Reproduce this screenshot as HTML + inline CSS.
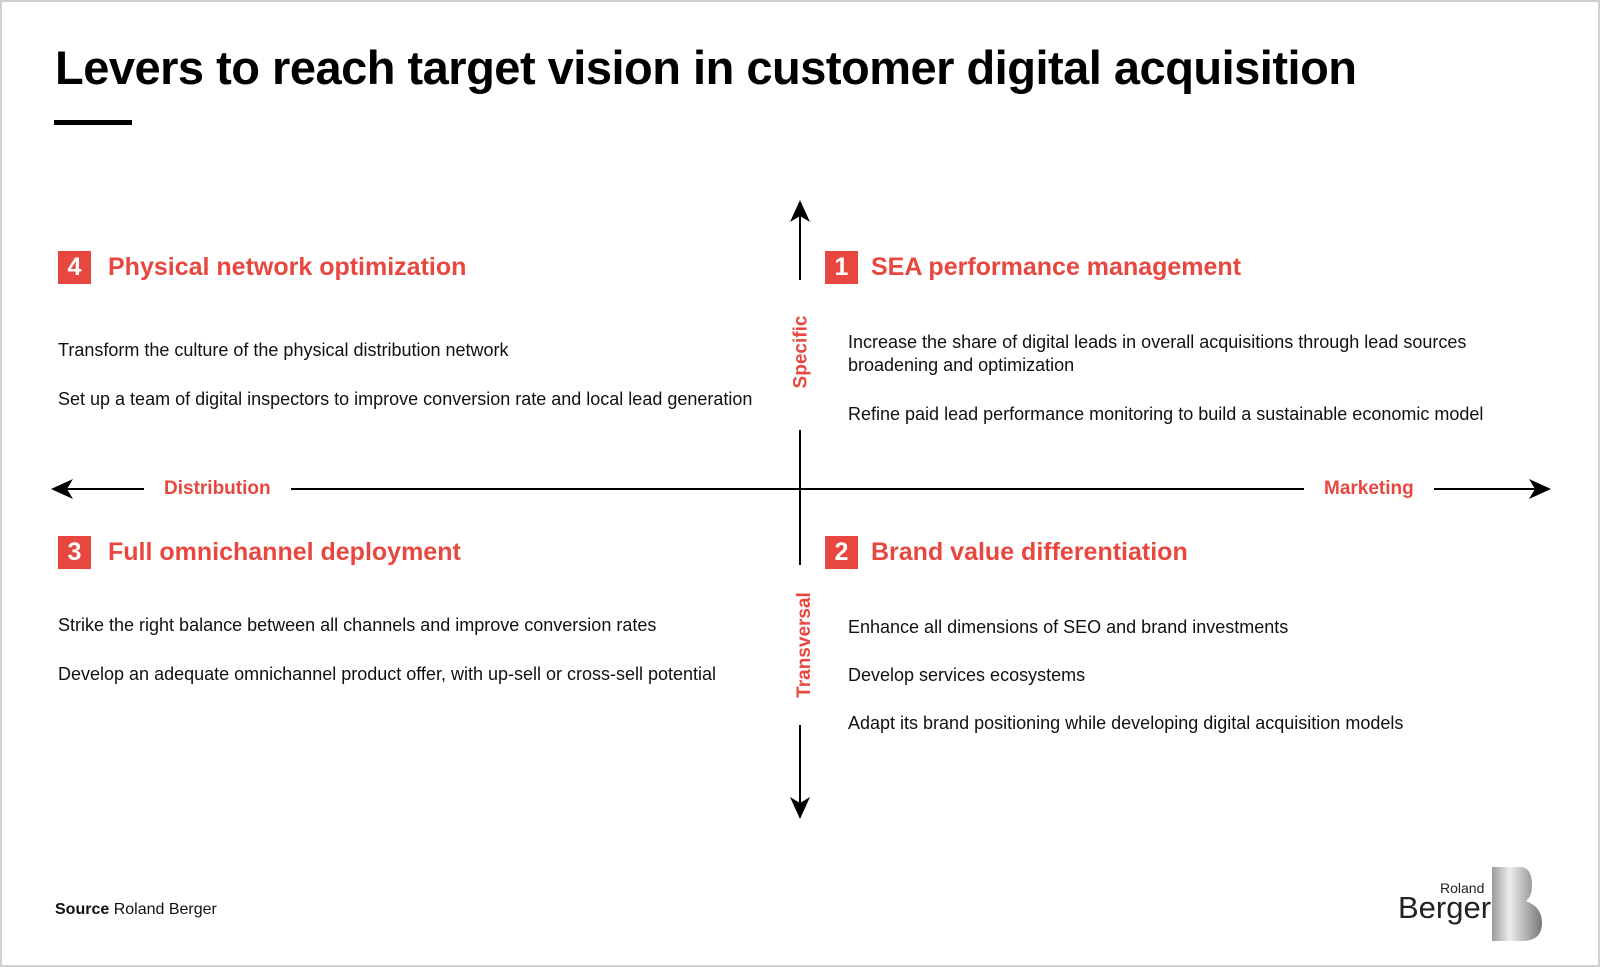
<!DOCTYPE html>
<html><head><style>
body{margin:0;width:1600px;height:967px;background:#fff;font-family:"Liberation Sans",sans-serif;position:relative;overflow:hidden}
.frame{position:absolute;left:0;top:0;width:1596px;height:963px;border:2px solid #cfcfcf}
.abs{position:absolute;white-space:nowrap}
h1{position:absolute;left:55px;top:40px;margin:0;font-size:47px;font-weight:bold;color:#000;letter-spacing:-0.5px}
.bar{position:absolute;left:54px;top:120px;width:78px;height:5px;background:#000}
.num{position:absolute;width:33px;height:33px;background:#e8473f;color:#fff;font-weight:bold;font-size:25px;text-align:center;line-height:33px}
.hd{position:absolute;color:#e8473f;font-weight:bold;font-size:25px;line-height:33px;white-space:nowrap}
.t{position:absolute;font-size:18px;color:#111;white-space:nowrap;line-height:23px}
.lab{position:absolute;color:#e8473f;font-weight:bold;font-size:19px;background:#fff;padding:0 20px;line-height:30px}
.vlab{position:absolute;color:#e8473f;font-weight:bold;font-size:19px;transform:rotate(-90deg);white-space:nowrap;background:#fff;padding:0 22px;line-height:24px}
</style></head><body>
<div class="frame"></div>
<h1>Levers to reach target vision in customer digital acquisition</h1>
<div class="bar"></div>
<svg class="abs" style="left:0;top:0" width="1600" height="967">
<line x1="62" y1="489" x2="1540" y2="489" stroke="#000" stroke-width="2"/>
<polygon points="51,489 73,479 67,489 73,499" fill="#000"/>
<polygon points="1551,489 1529,479 1535,489 1529,499" fill="#000"/>
<line x1="800" y1="212" x2="800" y2="808" stroke="#000" stroke-width="2"/>
<polygon points="800,200 790,222 800,216 810,222" fill="#000"/>
<polygon points="800,819 790,797 800,803 810,797" fill="#000"/>
<rect x="785" y="280" width="30" height="150" fill="#fff"/>
<rect x="785" y="565" width="30" height="160" fill="#fff"/>
</svg>
<div class="lab" style="left:144px;top:474px">Distribution</div>
<div class="lab" style="left:1304px;top:474px">Marketing</div>
<div class="vlab" style="left:743px;top:340px">Specific</div>
<div class="vlab" style="left:730px;top:633px">Transversal</div>

<div class="num" style="left:58px;top:251px">4</div><div class="hd" style="left:108px;top:251px">Physical network optimization</div>
<div class="num" style="left:825px;top:251px">1</div><div class="hd" style="left:871px;top:251px">SEA performance management</div>
<div class="num" style="left:58px;top:536px">3</div><div class="hd" style="left:108px;top:536px">Full omnichannel deployment</div>
<div class="num" style="left:825px;top:536px">2</div><div class="hd" style="left:871px;top:536px">Brand value differentiation</div>

<div class="t" style="left:58px;top:339px">Transform the culture of the physical distribution network</div>
<div class="t" style="left:58px;top:388px">Set up a team of digital inspectors to improve conversion rate and local lead generation</div>
<div class="t" style="left:848px;top:331px">Increase the share of digital leads in overall acquisitions through lead sources<br>broadening and optimization</div>
<div class="t" style="left:848px;top:403px">Refine paid lead performance monitoring to build a sustainable economic model</div>
<div class="t" style="left:58px;top:614px">Strike the right balance between all channels and improve conversion rates</div>
<div class="t" style="left:58px;top:663px">Develop an adequate omnichannel product offer, with up-sell or cross-sell potential</div>
<div class="t" style="left:848px;top:616px">Enhance all dimensions of SEO and brand investments</div>
<div class="t" style="left:848px;top:664px">Develop services ecosystems</div>
<div class="t" style="left:848px;top:712px">Adapt its brand positioning while developing digital acquisition models</div>

<div class="t" style="left:55px;top:898px;font-size:16px"><b>Source</b> Roland Berger</div>
<div class="abs" style="left:1440px;top:880px;font-size:14px;color:#222">Roland</div>
<div class="abs" style="left:1398px;top:890px;font-size:31px;color:#222">Berger</div>
<svg class="abs" style="left:1492px;top:867px" width="52" height="74">
<defs><linearGradient id="g" x1="0" x2="1"><stop offset="0" stop-color="#9a9a9a"/><stop offset=".35" stop-color="#eee"/><stop offset="1" stop-color="#777"/></linearGradient></defs>
<path d="M0 0 H28 Q40 0 40 18 Q40 30 34 34 Q50 40 50 56 Q50 74 30 74 H0 Z" fill="url(#g)"/>
</svg>
</body></html>
